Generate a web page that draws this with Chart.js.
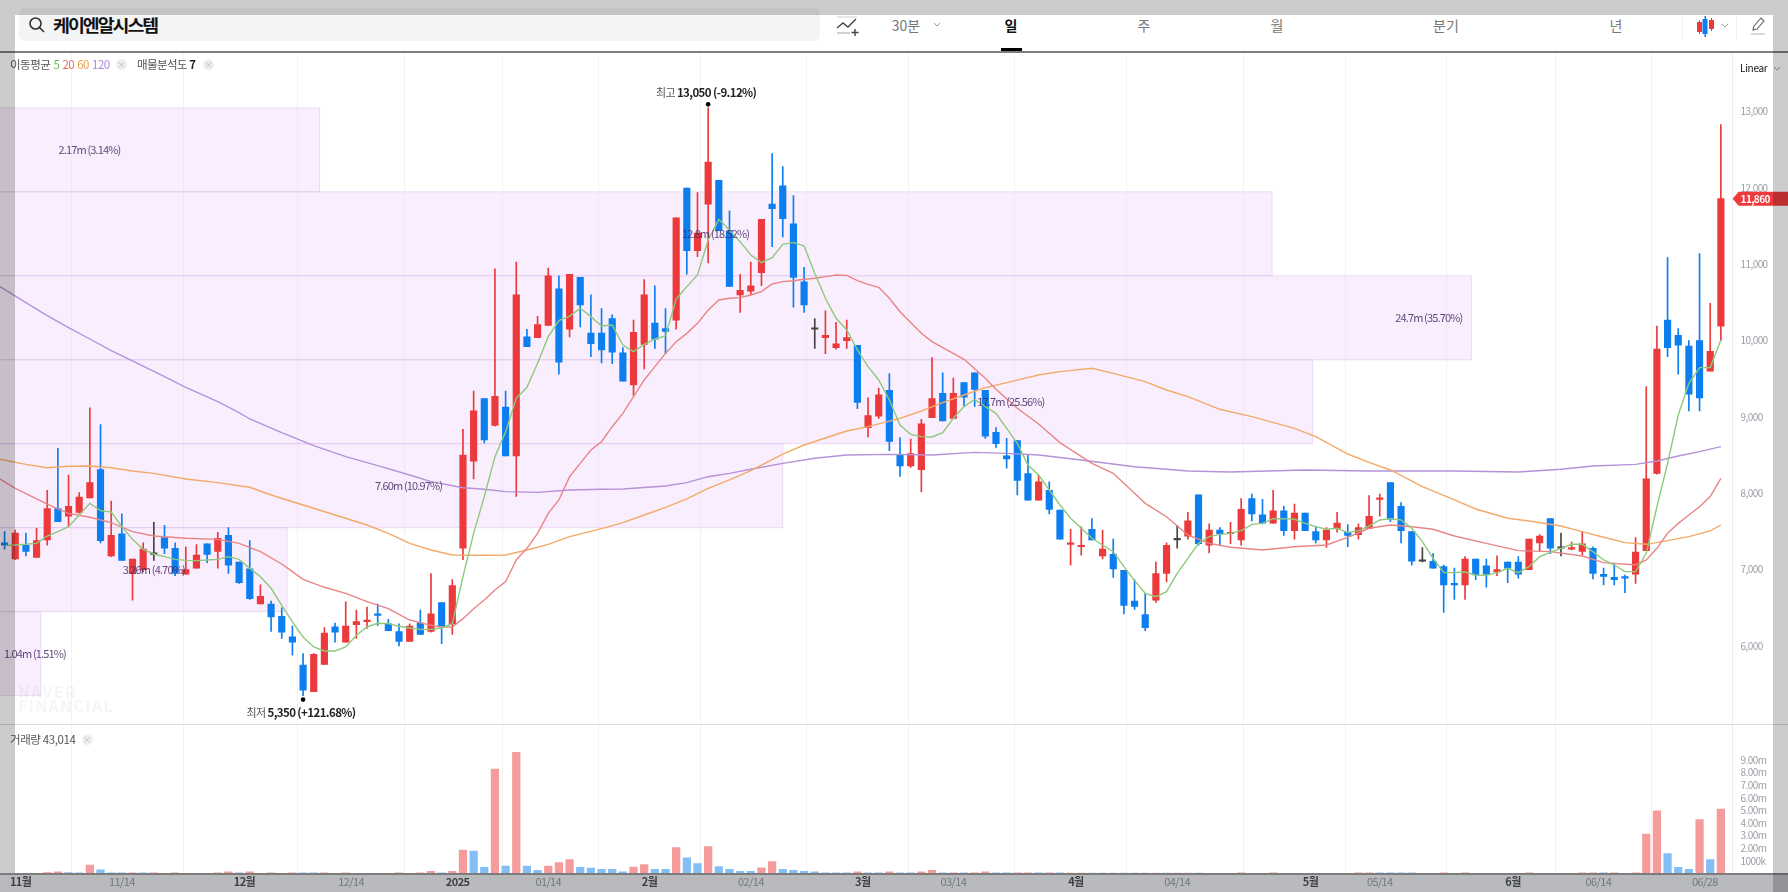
<!DOCTYPE html>
<html><head><meta charset="utf-8">
<script src="https://cdn.jsdelivr.net/npm/chart.js@4/dist/chart.umd.min.js"></script>
<style>
html,body{margin:0;padding:0;background:#fff;width:1788px;height:892px;overflow:hidden;font-family:"Noto Sans CJK KR","Noto Sans",sans-serif}
.a{position:absolute;white-space:nowrap}
.tab{top:15px;height:20px;line-height:20px;font-size:14px;color:#777;transform:translateX(-50%)}
.x{width:11px;height:11px;border-radius:50%;background:#efefef;color:#bbb;font-size:9px;line-height:11px;text-align:center}
canvas{position:absolute;display:block}
</style></head><body>
<div class="a" style="left:0;top:875px;width:1788px;height:17px;background:#b8babd"></div>
<div class="a" style="left:19px;top:8px;width:801px;height:33px;border-radius:6px;background:#f3f4f6"></div>
<svg class="a" style="left:28px;top:16px" width="18" height="18" viewBox="0 0 18 18" fill="none" stroke="#333" stroke-width="1.6"><circle cx="7.5" cy="7.5" r="5.5"/><path d="M11.5 11.5L16 16"/></svg>
<div class="a" style="left:53px;top:12px;font-size:17px;line-height:26px;font-weight:700;color:#111;letter-spacing:-1.85px;transform:scaleX(1.08);transform-origin:left">케이엔알시스템</div>
<svg class="a" style="left:836px;top:15px" width="24" height="22" viewBox="0 0 24 22" fill="none" stroke="#444" stroke-width="1.4"><path d="M1 13L7 8l5 4 8-8"/><path d="M1 18h13" stroke="#bbb"/><path d="M1 2h20" stroke="#ddd"/><path d="M19 14v7M15.500 17.500h7"/></svg>
<div class="a tab" style="left:906px">30분</div>
<svg class="a" style="left:933px;top:22px" width="8" height="6" viewBox="0 0 8 6" fill="none" stroke="#999"><path d="M1 1l3 3 3-3"/></svg>
<div class="a tab" style="left:1011px;color:#111;font-weight:700">일</div>
<div class="a" style="left:1001px;top:48px;width:21px;height:4px;background:#000"></div>
<div class="a tab" style="left:1144px">주</div>
<div class="a tab" style="left:1277px">월</div>
<div class="a tab" style="left:1446px">분기</div>
<div class="a tab" style="left:1616px">년</div>
<div class="a" style="left:1682px;top:15px;width:1px;height:24px;background:#f0f0f0"></div>
<div class="a" style="left:1736px;top:15px;width:1px;height:24px;background:#f0f0f0"></div>
<svg class="a" style="left:1696px;top:15px" width="18" height="22" viewBox="0 0 18 22"><path d="M3.500 5v14M15.500 3v13M9.500 1v21" stroke="#ed3738"/><rect x="1" y="7" width="5" height="10" fill="#ed3738"/><rect x="13" y="5" width="5" height="9" fill="#ed3738"/><path d="M9 1v21" stroke="#0c7ef0"/><rect x="6.500" y="4" width="5" height="15" fill="#0c7ef0"/></svg>
<svg class="a" style="left:1721px;top:23px" width="8" height="6" viewBox="0 0 8 6" fill="none" stroke="#999"><path d="M1 1l3 3 3-3"/></svg>
<svg class="a" style="left:1750px;top:16px" width="16" height="20" viewBox="0 0 16 20" fill="none" stroke="#666" stroke-width="1.1"><path d="M3 14l1-4 7-8 3 3-7 8z"/><path d="M1 18h14" stroke="#bbb"/></svg>
<canvas id="priceChart" width="1788" height="672" style="left:0;top:52px"></canvas>
<canvas id="volChart" width="1788" height="168" style="left:0;top:724px"></canvas>
<div class="a" style="left:0;top:51px;width:1788px;height:2px;background:#7d7d7d"></div>
<div class="a" style="left:0;top:724px;width:1788px;height:1px;background:#dcdbe4"></div>
<div class="a" style="left:0;top:873px;width:1788px;height:2px;background:#7d7d7d"></div>
<div class="a" style="left:10px;top:56px;font-size:11.5px;line-height:16px;color:#555;letter-spacing:-.5px;word-spacing:1px">이동평균 <span style="color:#6dbb5a">5</span> <span style="color:#ea6a6a">20</span> <span style="color:#f0a050">60</span> <span style="color:#a987d8">120</span></div>
<div class="a x" style="left:116px;top:58.500px">×</div>
<div class="a" style="left:137px;top:56px;font-size:11.500px;line-height:16px;color:#555;letter-spacing:-.55px">매물분석도 <b style="color:#222">7</b></div>
<div class="a x" style="left:203px;top:58.500px">×</div>
<div class="a" style="left:10px;top:731px;font-size:11.500px;line-height:16px;color:#555;letter-spacing:-.4px">거래량 43,014</div>
<div class="a x" style="left:81.500px;top:733.500px">×</div>
<div class="a" style="left:1740px;top:60px;font-size:10px;line-height:16px;color:#111;letter-spacing:-.3px">Linear</div>
<svg class="a" style="left:1773px;top:66px" width="8" height="6" viewBox="0 0 8 6" fill="none" stroke="#999"><path d="M1 1l3 3 3-3"/></svg>
<div class="a" style="left:18px;top:684px;font-size:16px;line-height:14px;font-weight:700;color:rgba(0,0,0,.04);letter-spacing:1.3px;white-space:pre-line">NAVER
FINANCIAL</div>
<div class="a" style="left:0;top:0;width:1788px;height:15px;background:rgba(0,0,0,.2)"></div>
<div class="a" style="left:0;top:15px;width:15px;height:858px;background:rgba(0,0,0,.2)"></div>
<div class="a" style="left:1773px;top:15px;width:15px;height:877px;background:rgba(0,0,0,.2)"></div>
<script>
const openP=[7350,7140,7320,7160,7390,7800,7700,7750,7940,8310,
7180,7470,6950,7000,7200,7420,7280,6940,7020,7340,
7240,7450,7100,7010,6550,6550,6390,6120,5750,5400,
5760,6250,6050,6280,6320,6420,6290,6190,6060,6300,
6190,6570,6290,7280,8420,9240,8890,9130,8490,10050,
10040,10200,10680,10150,10830,10100,10100,10290,9840,9420,
9950,10230,10160,10270,12000,11180,11790,12100,11440,10600,
10650,10890,11790,12030,11530,10770,10150,10040,9910,10000,
9940,8860,9010,9350,8500,8360,8310,8990,9310,8980,
9450,9580,9350,8800,8490,8690,8260,7910,8040,7780,
7330,7300,7530,7180,7200,6990,6590,6410,6600,6950,
7390,7440,7980,7320,7520,7470,7390,7930,7720,7610,
7770,7510,7740,7500,7390,7540,7490,7460,7540,7920,
8140,7830,7500,7110,7110,7040,6820,6800,7140,7050,
6970,7100,7100,7000,7350,7670,7280,7270,7240,7280,
6940,6900,6900,6940,7250,8260,10270,10070,9930,10000,
9600,10190];
const closeP=[7320,7480,7240,7380,7800,7630,7830,7950,8140,7380,
7450,7120,7140,7270,7200,7280,6950,7000,7190,7200,
7410,7060,6830,6620,6650,6380,6180,6050,5420,5890,
6170,6180,6260,6320,6340,6400,6200,6060,6260,6150,
6420,6250,6790,8500,9080,8700,9270,8490,10600,9920,
10210,10850,9720,10870,10470,9960,9880,9850,9470,10110,
10600,10020,10120,11610,11180,11410,12340,11440,10710,10660,
10720,11590,11730,11600,10830,10470,10150,10070,9960,10040,
9190,9020,9290,8680,8360,8520,8910,9240,8950,9310,
9260,9360,8750,8650,8450,8170,7910,8150,7790,7400,
7350,7310,7390,7270,7010,6530,6520,6240,6950,7320,
7390,7640,7340,7520,7470,7480,7790,7730,7610,7770,
7510,7740,7510,7390,7520,7610,7450,7550,7700,7940,
7660,7510,7110,7110,7020,6800,6800,7140,6930,6940,
7000,7020,6940,7400,7440,7280,7280,7280,7340,6950,
6910,6870,6890,7230,8190,9890,9910,9940,9300,9250,
9860,11860];
const highP=[7500,7520,7480,7540,8040,8590,8240,8010,9120,8900,
7900,7730,7140,7350,7620,7580,7350,7300,7330,7340,
7490,7550,7100,7380,6800,6590,6500,6260,5900,5900,
6240,6300,6580,6470,6510,6550,6350,6290,6290,6470,
6950,6570,6870,8840,9340,9240,10940,9340,11030,10150,
10320,10950,10850,10870,10830,10600,10420,10340,9910,10270,
10800,10720,10420,11610,12000,11940,13050,12100,11700,10870,
11030,11590,12450,12280,11900,10960,10290,10390,10240,10270,
9940,9250,9380,9570,8730,8710,8970,9780,9580,9510,
9450,9580,9350,8860,8720,8690,8500,8240,8150,7780,
7530,7560,7670,7520,7400,6990,6870,6690,7100,7350,
7580,7750,7980,7600,7550,7620,7930,7990,7920,8040,
7830,7860,7740,7560,7550,7750,7590,7600,7970,7990,
8140,7880,7500,7290,7210,7060,7020,7170,7140,7140,
7180,7100,7170,7400,7460,7670,7480,7360,7500,7300,
7020,7080,6930,7420,9400,10190,11090,10160,10000,11140,
10490,12830];
const lowP=[7270,7130,7180,7160,7320,7630,7560,7740,7940,7350,
7170,7120,6600,6970,7120,7210,6920,6940,7020,7090,
7020,6950,6820,6610,6550,6190,6100,5880,5350,5400,
5760,6050,6050,6100,6230,6270,6200,6000,6060,6150,
6180,6030,6150,7130,8190,8660,8880,8490,7960,9920,
10040,10200,9560,10050,10180,9790,9710,9700,9470,9280,
9630,9900,9830,10150,10870,11100,11020,11440,10710,10370,
10600,10720,11230,11360,10440,10370,9900,9830,9890,9900,
9110,8740,8980,8560,8220,8340,8020,8990,8950,8980,
9140,9140,8720,8600,8330,7980,7910,7910,7730,7400,
7060,7190,7390,7140,6900,6420,6480,6200,6570,6840,
7280,7400,7320,7220,7320,7340,7320,7640,7600,7610,
7450,7400,7510,7350,7290,7490,7300,7400,7540,7700,
7630,7350,7060,7100,7020,6440,6610,6610,6870,6770,
6920,6830,6890,7000,7240,7210,7180,7260,7190,6880,
6800,6800,6700,6820,7250,8250,9790,9560,9080,9080,
9600,10000];
const ma5=[7315,7323,7332,7345,7441,7498,7563,7716,7869,7773,
7756,7563,7397,7266,7205,7170,7135,7122,7118,7127,
7135,7170,7135,7017,6908,6756,6533,6315,6118,5987,
5935,5935,5987,6140,6249,6297,6293,6258,6236,6218,
6218,6236,6293,6908,7476,7957,8481,8808,9245,9389,
9703,10053,10262,10323,10424,10315,10192,10205,9943,9856,
9952,10022,10061,10546,10708,10861,11319,11590,11450,11297,
11123,11022,11088,11262,11288,11240,10882,10555,10293,10140,
9878,9660,9485,9223,8895,8773,8743,8738,8795,8983,
9136,9232,9136,9048,8852,8655,8371,8240,8044,7847,
7673,7542,7411,7323,7236,7039,6856,6690,6646,6712,
6952,7149,7345,7432,7463,7476,7511,7594,7607,7668,
7668,7660,7607,7563,7529,7542,7485,7511,7572,7651,
7668,7651,7542,7367,7149,6961,6961,6969,6930,6926,
6961,7017,6961,7039,7170,7227,7280,7332,7332,7236,
7127,7061,6974,6974,7214,7825,8393,9026,9441,9647,
9647,10009];
const ma20Idx=[-0.43,1,4,6,8,10,12,14,17,20,22,24,26,27,28,30,32,34,36,38,40,41,42,43,44,45,46,47,48,49,50,51,52,53,54,55,56,57,58,59,60,61,62,63,64,65,66,67,68,69,70,71,72,73,74,75,76,77,78,79,80,81,82,83,84,86,87,90,92,93,95,97,99,102,104,106,107,109,111,113,115,118,121,124,126,128,130,132,134,136,139,142,145,148,150,153,154,155,156,157,158,159,160,161];
const ma20=[8188,8066,7860,7738,7686,7616,7498,7441,7411,7397,7345,7236,7074,6974,6873,6769,6690,6581,6489,6340,6271,6249,6249,6358,6489,6603,6734,6843,7127,7280,7476,7738,7913,8218,8393,8568,8677,8873,9048,9267,9485,9660,9834,9987,10096,10227,10402,10533,10555,10564,10598,10642,10743,10773,10786,10804,10817,10839,10861,10856,10786,10738,10699,10555,10380,10096,9987,9756,9507,9363,9114,8908,8664,8393,8262,8000,7869,7694,7454,7345,7293,7258,7301,7323,7424,7542,7585,7563,7529,7441,7345,7249,7236,7179,7092,7061,7127,7280,7476,7607,7716,7825,7957,8197];
const ma60Idx=[-0.43,2,4,6,8,10,12,14,17,20,23,25,28,31,34,36,38,40,42,45,47,49,51,53,56,58,60,62,64,66,68,70,73,75,79,81,84,86,88,90,92,94,97,99,102,104,107,109,111,114,117,121,123,126,128,130,133,136,138,141,143,146,148,150,152,154,156,158,160,161];
const ma60=[8446,8380,8336,8354,8358,8336,8293,8262,8188,8140,8079,7978,7847,7716,7585,7476,7345,7258,7192,7188,7192,7258,7332,7432,7537,7616,7716,7817,7926,8066,8175,8297,8515,8633,8817,8874,8983,9079,9188,9288,9384,9450,9550,9594,9638,9572,9463,9354,9267,9101,9005,8852,8743,8515,8406,8306,8087,7913,7795,7673,7638,7572,7498,7424,7354,7332,7380,7432,7507,7585];
const ma120Idx=[-0.43,2,4,6,8,10,12,15,17,20,22,23,26,29,32,35,38,40,43,45,47,50,53,56,58,62,64,66,68,70,73,76,79,83,87,91,94,97,101,106,109,111,115,122,128,136,142,146,149,153,155,157,159,161];
const ma120=[10708,10498,10328,10171,10022,9869,9734,9529,9389,9201,9057,8974,8795,8625,8481,8363,8240,8153,8074,8053,8022,8013,8044,8053,8057,8096,8140,8218,8262,8315,8393,8459,8502,8511,8502,8537,8524,8502,8437,8349,8315,8293,8280,8306,8293,8293,8280,8315,8358,8380,8424,8489,8546,8612];
const volume=[.02,.02,.02,.02,.08,.13,.08,.06,.66,.29,
.06,.06,.06,.05,.05,.02,.05,.02,.02,.02,
.05,.13,.05,.13,.02,.05,.02,.05,.05,.05,
.05,.02,.06,.02,.02,.02,.02,.05,.02,.05,
.18,.05,.18,1.85,1.77,.48,8.27,.58,9.61,.58,
.26,.58,.87,1.11,.48,.42,.34,.34,.13,.5,
.71,.34,.34,2.06,1.24,.79,2.14,.55,.34,.18,
.18,.45,.95,.34,.26,.18,.13,.05,.05,.05,
.13,.05,.05,.13,.05,.05,.13,.26,.05,.05,
.05,.05,.13,.05,.05,.05,.05,.05,.05,.05,
.04,.04,.04,.04,.04,.04,.04,.04,.04,.04,
.04,.04,.04,.02,.02,.02,.05,.02,.02,.05,
.02,.02,.02,.02,.02,.02,.02,.05,.05,.05,
.05,.05,.05,.02,.02,.05,.02,.05,.02,.02,
.02,.02,.02,.05,.02,.02,.02,.02,.05,.05,
.05,.05,.02,.05,3.12,4.96,1.58,.48,.34,4.28,
1.11,5.1];
const volUp=[0,0,0,0,1,1,0,0,1,0,
0,0,1,0,1,0,1,1,1,0,
1,1,0,1,1,1,0,1,0,0,
1,0,1,0,0,0,0,1,0,1,
1,0,1,1,0,0,1,0,1,0,
0,1,1,1,0,0,0,0,0,1,
1,0,0,1,0,0,1,0,0,0,
0,1,1,0,0,0,0,0,0,0,
1,0,0,1,0,0,1,1,0,1,
0,1,1,0,0,1,1,0,1,0,
1,1,0,0,1,0,0,1,1,0,
1,1,0,0,0,0,1,0,0,1,
0,0,0,0,0,0,0,1,1,0,
0,0,0,0,0,1,0,1,0,0,
0,0,0,1,0,0,0,0,1,1,
0,1,0,1,1,1,0,0,0,1,
0,1];
const bandEdges=[13050,11950,10850,9750,8650,7550,6450,5350];
const bandEnd=[29.55,118.9,137.6,122.7,73,26.5,3.4];
const bandText=["2.17m (3.14%)","12.8m (18.52%)","24.7m (35.70%)","17.7m (25.56%)","7.60m (10.97%)","3.26m (4.70%)","1.04m (1.51%)"];
const bandTextIdx=[7.96,66.7,133.6,94.4,37.9,14,2.85];
const priceTicks=[6000,7000,8000,9000,10000,11000,12000,13000];
const volTicks=[1,2,3,4,5,6,7,8,9];
const volTickLabels=["1000k","2.00m","3.00m","4.00m","5.00m","6.00m","7.00m","8.00m","9.00m"];
const dateTicks=[1.5,11,22.5,32.5,42.5,51,60.5,70,80.5,89,100.5,110,122.5,129,141.5,149.5,159.5];
const dateLabels=["11월","11/14","12월","12/14","2025","01/14","2월","02/14","3월","03/14","4월","04/14","5월","05/14","6월","06/14","06/28"];
const dateBold=[1,0,1,0,1,0,1,0,1,0,1,0,1,0,1,0,0];

const FONT='"Noto Sans CJK KR","Noto Sans",sans-serif';
Chart.defaults.font.family=FONT;
Chart.defaults.animation=false;
const RED='#ec393b',BLUE='#0c7ef0',DOJI='#444';
const idx=openP.map((_,i)=>i);
const col=i=>closeP[i]===openP[i]?DOJI:(closeP[i]>openP[i]?RED:BLUE);
const XMIN=-0.43,XMAX=162.1;
const lineSet=(xs,ys,c,o)=>({type:'line',data:ys.map((y,i)=>({x:xs[i],y})),borderColor:c,borderWidth:1.4,pointRadius:0,tension:0,order:o});
const spacing={id:'sp',beforeDraw(c){c.ctx.letterSpacing='-0.6px';}};
const bands={id:'bands',
 beforeDatasetsDraw(c){const {ctx,scales:{x,y},chartArea:a}=c;
  bandEnd.forEach((e,i)=>{const t=y.getPixelForValue(bandEdges[i]),b=y.getPixelForValue(bandEdges[i+1]),r=x.getPixelForValue(e);
   ctx.fillStyle='rgba(235,195,248,.28)';ctx.fillRect(a.left,t,r-a.left,b-t);
   ctx.strokeStyle='rgba(205,165,225,.35)';ctx.lineWidth=1;ctx.strokeRect(a.left-2,t,r-a.left+2,b-t);});},
 afterDatasetsDraw(c){const {ctx,scales:{x,y}}=c;ctx.save();
  ctx.font='11px '+FONT;ctx.fillStyle='rgba(70,40,100,.85)';ctx.textAlign='center';ctx.textBaseline='middle';ctx.letterSpacing='-0.85px';
  bandText.forEach((t,i)=>ctx.fillText(t,x.getPixelForValue(bandTextIdx[i]),y.getPixelForValue((bandEdges[i]+bandEdges[i+1])/2)));
  ctx.letterSpacing='-0.6px';
  const mark=(i,v,off,txtOff,lbl,val)=>{const px=x.getPixelForValue(i),py=y.getPixelForValue(v)+off;
   ctx.fillStyle='#000';ctx.beginPath();ctx.arc(px,py,2.3,0,7);ctx.fill();
   ctx.font='11px '+FONT;const w1=ctx.measureText(lbl+' ').width;ctx.font='700 11.5px '+FONT;const w2=ctx.measureText(val).width;
   let sx=px-(w1+w2)/2-2,ty=py+txtOff;ctx.textAlign='left';
   ctx.font='11px '+FONT;ctx.fillStyle='#555';ctx.fillText(lbl,sx,ty);
   ctx.font='700 11.5px '+FONT;ctx.fillStyle='#222';ctx.fillText(val,sx+w1,ty);};
  mark(66,Math.max(...highP),-3.5,-11.5,'최고','13,050 (-9.12%)');
  mark(28,Math.min(...lowP),4,13.5,'최저','5,350 (+121.68%)');
  const last=closeP[closeP.length-1],ly=y.getPixelForValue(last),ax=x.getPixelForValue(XMAX);
  ctx.fillStyle='#ed3a3c';ctx.beginPath();ctx.moveTo(ax,ly);ctx.lineTo(ax+6,ly-7);ctx.lineTo(1788,ly-7);ctx.lineTo(1788,ly+7);ctx.lineTo(ax+6,ly+7);ctx.closePath();ctx.fill();
  ctx.fillStyle='#fff';ctx.font='700 10px '+FONT;ctx.textAlign='left';ctx.fillText(last.toLocaleString('en-US'),ax+8,ly);
  ctx.restore();}
};
const xGrid={color:'#f3f3f6',lineWidth:1,drawTicks:false};
const setTicks=arr=>s=>{s.ticks=arr.map(v=>({value:v}));};
const noPad=(w)=>s=>{s.width=w;s.paddingTop=0;s.paddingBottom=0;};
new Chart(document.getElementById('priceChart'),{type:'bar',plugins:[spacing,bands],
 data:{datasets:[
  lineSet(idx,ma5,'#8ec97c',1),
  lineSet(ma20Idx,ma20,'#e98585',1),
  lineSet(ma60Idx,ma60,'#f3aa68',1),
  lineSet(ma120Idx,ma120,'#b592d8',1),
  {data:idx.map(i=>({x:i,y:[openP[i],closeP[i]]})),backgroundColor:idx.map(col),barThickness:6.5,minBarLength:1.5,order:2},
  {data:idx.map(i=>({x:i,y:[lowP[i],highP[i]]})),backgroundColor:idx.map(col),barThickness:1,order:3}
 ]},
 options:{responsive:false,maintainAspectRatio:false,layout:{padding:0,autoPadding:false},
  datasets:{bar:{grouped:false}},
  plugins:{legend:{display:false},tooltip:{enabled:false}},
  scales:{
   x:{type:'linear',min:XMIN,max:XMAX,offset:false,grid:xGrid,border:{display:false},ticks:{display:false},afterBuildTicks:setTicks(dateTicks),afterFit(s){s.height=0;}},
   y:{position:'right',min:4978,max:13782,grid:{display:false},border:{color:'#ececf0'},
      ticks:{color:'#9a9ea5',font:{size:10},padding:0,callback:v=>v.toLocaleString('en-US')},
      afterBuildTicks:setTicks(priceTicks),afterFit:noPad(55.4)}
  }}});
new Chart(document.getElementById('volChart'),{type:'bar',plugins:[spacing],
 data:{datasets:[{data:idx.map(i=>({x:i,y:volume[i]})),backgroundColor:idx.map(i=>volUp[i]?'#f59b9b':'#84bef7'),barThickness:7.6}]},
 options:{responsive:false,maintainAspectRatio:false,layout:{padding:0,autoPadding:false},
  plugins:{legend:{display:false},tooltip:{enabled:false}},
  scales:{
   x:{type:'linear',min:XMIN,max:XMAX,offset:false,grid:xGrid,border:{display:false},
      ticks:{autoSkip:false,maxRotation:0,padding:2,
        font:c=>({size:11,weight:dateBold[c.index]?'700':'400'}),
        color:c=>dateBold[c.index]?'#3c3e42':'#74777c',
        callback:(v,i)=>dateLabels[i]},
      afterBuildTicks:setTicks(dateTicks),afterFit(s){s.height=18.5;}},
   y:{position:'right',min:0,max:11.85,grid:{display:false},border:{color:'#ececf0'},
      ticks:{color:'#9a9ea5',font:{size:10},padding:0,callback:(v,i)=>volTickLabels[i]},
      afterBuildTicks:setTicks(volTicks),afterFit:noPad(55.4)}
  }}});
</script>
</body></html>
